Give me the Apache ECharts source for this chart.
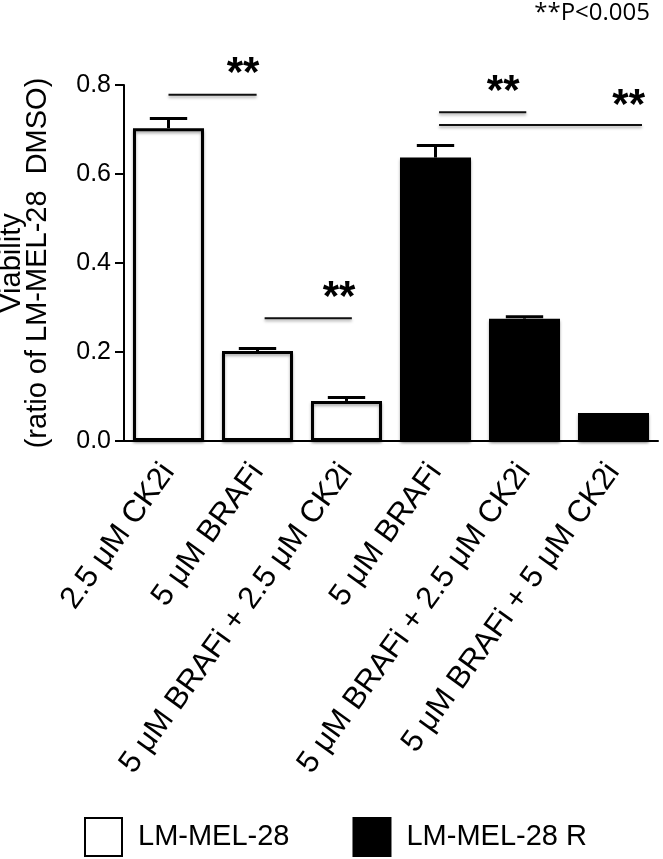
<!DOCTYPE html>
<html><head><meta charset="utf-8">
<script src="https://cdn.jsdelivr.net/npm/echarts@6/dist/echarts.min.js"></script>
<style>html,body{margin:0;padding:0;background:#fff}#c{width:663px;height:859px}</style>
</head><body><div id="c"></div>
<script>
var categories = ['2.5 μM CK2i','5 μM BRAFi','5 μM BRAFi + 2.5 μM CK2i','5 μM BRAFi','5 μM BRAFi + 2.5 μM CK2i','5 μM BRAFi + 5 μM CK2i'];
var seriesNames = ['LM-MEL-28','LM-MEL-28 R'];
var parentValues = [0.703, 0.202, 0.090, null, null, null];
var resistantValues = [null, null, null, 0.637, 0.275, 0.063];
var errors = [0.022, 0.006, 0.008, 0.027, 0.004, 0.0];
var yTicks = [0, 0.2, 0.4, 0.6, 0.8];
// significance bars (category-index units)
var sigStart = [0.0, 1.08, 3.04, 3.04];
var sigEnd = [0.99, 2.06, 4.02, 5.32];
var sigY = [0.778, 0.276, 0.739, 0.710];
// star labels
var starX = [0.837, 1.916, 3.76, 5.17];
var starY = [0.841, 0.339, 0.802, 0.769];
var noteText = '**P<0.005';

var means = parentValues.map(function(v,i){return v!=null?v:resistantValues[i];});
var errData = means.map(function(m,i){return [i, m, m + errors[i]];});
var sigData = sigStart.map(function(s,i){return [s, sigY[i], sigEnd[i]];});
var starData = starX.map(function(x,i){return [x, starY[i]];});

var chart = echarts.init(document.getElementById('c'));
var font = 'Liberation Sans, Arial, sans-serif';
chart.setOption({
  animation:false,
  grid:{left:124, right:5, top:85, bottom:418, containLabel:false, outerBoundsMode:'none'},
  xAxis:[{
    type:'category', data:categories,
    axisLine:{onZero:false,lineStyle:{color:'#000',width:2}},
    axisTick:{alignWithLabel:true,length:10,lineStyle:{color:'#000',width:2}},
    axisLabel:{rotate:54,fontSize:31,color:'#000',fontFamily:font,margin:26,interval:0}
  },{
    type:'value', min:-0.5, max:5.5, show:false
  }],
  yAxis:{
    type:'value', min:yTicks[0], max:yTicks[yTicks.length-1], interval:0.2,
    splitLine:{show:false},
    axisLine:{show:true,onZero:false,lineStyle:{color:'#000',width:2}},
    axisTick:{show:true,length:9,lineStyle:{color:'#000',width:2}},
    axisLabel:{fontSize:25,color:'#000',fontFamily:font,margin:13,formatter:function(v){return v.toFixed(1);}},
    name:'Viability\n(ratio of LM-MEL-28  DMSO)', nameLocation:'middle', nameGap:73, nameRotate:90,
    nameTextStyle:{fontSize:29,color:'#000',fontFamily:font,lineHeight:26}
  },
  legend:{
    left:79, top:812, itemWidth:37, itemHeight:38, itemGap:63, icon:'rect',
    data:seriesNames,
    textStyle:{fontSize:29,color:'#000',fontFamily:font,padding:[0,0,0,11]}
  },
  graphic:[{type:'text', right:13, top:1, style:{text:noteText, fontSize:24, fontFamily:'Open Sans, sans-serif', fill:'#000'}}],
  series:[
    {name:seriesNames[0], type:'bar', data:parentValues, barWidth:71, barGap:'-100%',
     itemStyle:{color:'#fff', borderColor:'#000', borderWidth:3, shadowColor:'rgba(0,0,0,0.35)', shadowBlur:3, shadowOffsetY:2}},
    {name:seriesNames[1], type:'bar', data:resistantValues, barWidth:71, barGap:'-100%',
     itemStyle:{color:'#000', borderColor:'#000', borderWidth:3, shadowColor:'rgba(0,0,0,0.35)', shadowBlur:3, shadowOffsetY:2}},
    {type:'custom', data:errData, encode:{x:0, y:[1,2]}, z:1,
     renderItem:function(params, api){
       var i=api.value(0), lo=api.value(1), hi=api.value(2);
       if(!(hi>lo)) return;
       var p0=api.coord([i,lo]), p1=api.coord([i,hi]);
       var hw=api.size([1,0])[0]*0.21;
       return {type:'group', children:[
         {type:'line', shape:{x1:p0[0],y1:p0[1],x2:p1[0],y2:p1[1]}, style:{stroke:'#000',lineWidth:3}},
         {type:'line', shape:{x1:p1[0]-hw,y1:p1[1],x2:p1[0]+hw,y2:p1[1]}, style:{stroke:'#000',lineWidth:3}}
       ]};
     }},
    {type:'custom', xAxisIndex:1, data:sigData, encode:{x:[0,2], y:1}, clip:false,
     renderItem:function(params, api){
       var a=api.coord([api.value(0),api.value(1)]), b=api.coord([api.value(2),api.value(1)]);
       return {type:'line', shape:{x1:a[0],y1:a[1],x2:b[0],y2:b[1]},
         style:{stroke:'#111',lineWidth:2,shadowColor:'rgba(0,0,0,0.35)',shadowBlur:3,shadowOffsetY:2}};
     }},
    {type:'custom', xAxisIndex:1, data:starData, encode:{x:0, y:1}, clip:false,
     renderItem:function(params, api){
       var p=api.coord([api.value(0),api.value(1)]);
       return {type:'text', x:p[0], y:p[1]+8, style:{text:'**', fontSize:42, fontWeight:'bold', fontFamily:font, fill:'#000', align:'center', verticalAlign:'middle'}};
     }}
  ]
});
</script></body></html>
